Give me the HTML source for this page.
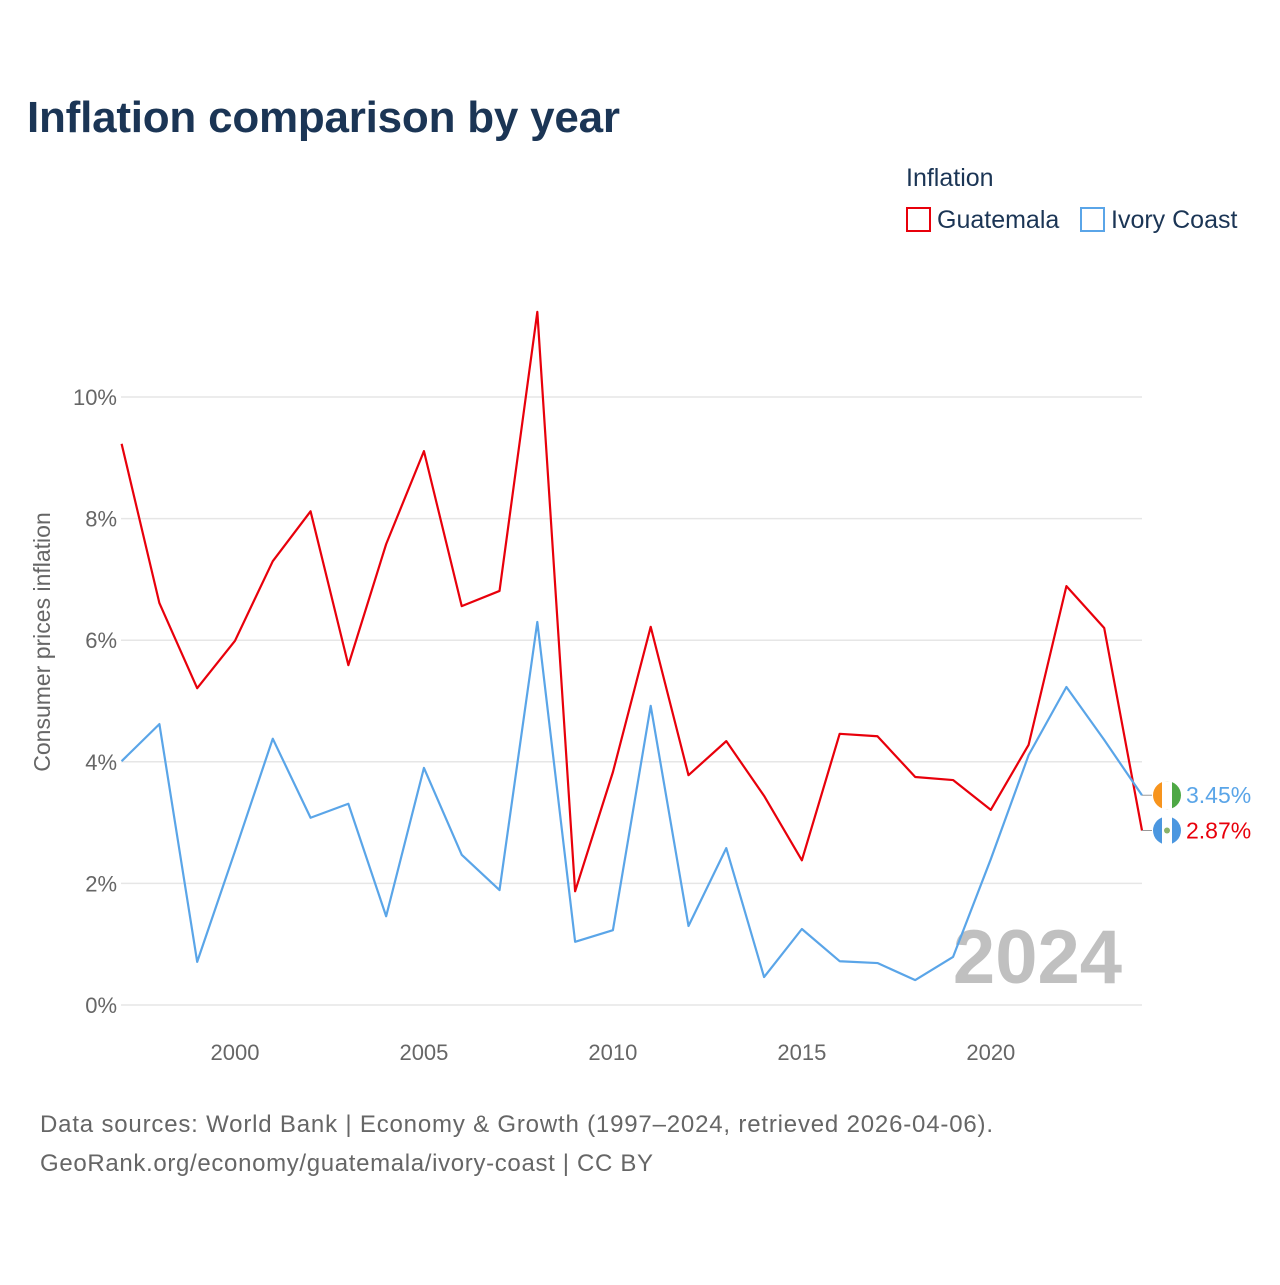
<!DOCTYPE html>
<html><head><meta charset="utf-8"><style>
body{margin:0;background:#fff;font-family:"Liberation Sans",sans-serif;}
svg text{font-family:"Liberation Sans",sans-serif;}
</style></head><body>
<svg id="chart" width="1280" height="1280" xmlns="http://www.w3.org/2000/svg">
<text x="27" y="132" font-size="44" font-weight="bold" fill="#1b3555" textLength="593">Inflation comparison by year</text>
<text x="906" y="186" font-size="25" fill="#1b3555">Inflation</text>
<g><rect x="907" y="208" width="23" height="23" fill="none" stroke="#e8000b" stroke-width="2"/><text x="937" y="228" font-size="25" fill="#1b3555">Guatemala</text></g>
<g><rect x="1081" y="208" width="23" height="23" fill="none" stroke="#5aa5e8" stroke-width="2"/><text x="1111" y="228" font-size="25" fill="#1b3555">Ivory Coast</text></g>
<g id="grid"></g>
<g id="yticks"></g>
<g id="xticks"></g>
<text transform="translate(50,642) rotate(-90)" text-anchor="middle" font-size="23" fill="#666">Consumer prices inflation</text>
<text x="1122" y="983" text-anchor="end" font-size="76" font-weight="bold" fill="#c0c0c0">2024</text>
<g id="series"></g>
<text x="40" y="1132" font-size="24" fill="#666" textLength="953">Data sources: World Bank | Economy &amp; Growth (1997–2024, retrieved 2026-04-06).</text>
<text x="40" y="1171" font-size="24" fill="#666" textLength="613">GeoRank.org/economy/guatemala/ivory-coast | CC BY</text>
</svg>
<script>
const years=[1997,1998,1999,2000,2001,2002,2003,2004,2005,2006,2007,2008,2009,2010,2011,2012,2013,2014,2015,2016,2017,2018,2019,2020,2021,2022,2023,2024];
const guatemala=[9.23,6.61,5.21,5.99,7.30,8.12,5.59,7.58,9.11,6.56,6.81,11.4,1.87,3.83,6.22,3.78,4.34,3.44,2.38,4.46,4.42,3.75,3.70,3.21,4.28,6.89,6.20,2.87];
const ivoryCoast=[4.01,4.62,0.71,2.53,4.38,3.08,3.31,1.46,3.90,2.47,1.89,6.30,1.04,1.23,4.92,1.30,2.58,0.46,1.25,0.72,0.69,0.41,0.79,2.40,4.11,5.23,4.36,3.45];
const yTicks=[0,2,4,6,8,10];
const xTicks=[2000,2005,2010,2015,2020];
const NS="http://www.w3.org/2000/svg";
const x=v=>121.6+(v-1997)*(1142-121.6)/27;
const y=v=>1005-v*60.8;
function mk(t,a,p){const e=document.createElementNS(NS,t);for(const k in a)e.setAttribute(k,a[k]);p.appendChild(e);return e;}
const grid=document.getElementById('grid'),yt=document.getElementById('yticks'),xt=document.getElementById('xticks'),ser=document.getElementById('series');
yTicks.forEach(v=>{
 const l=mk('line',{x1:121,x2:1142,y1:y(v),y2:y(v),stroke:'#e6e6e6','stroke-width':1.5},grid);
 
 
 const t=mk('text',{x:117,y:y(v)+8,'text-anchor':'end','font-size':22,fill:'#666'},yt);t.textContent=v+'%';
 
 
});
xTicks.forEach(v=>{
 const t=mk('text',{x:x(v),y:1060,'text-anchor':'middle','font-size':22,fill:'#666'},xt);t.textContent=v;
 
 
});
function line(vals,col,name,lab,dy,flag){
 const p=mk('polyline',{points:vals.map((v,i)=>x(years[i])+','+y(v)).join(' '),fill:'none',stroke:col,'stroke-width':2.2,'stroke-linejoin':'round'},ser);
 
 
 const last=vals[vals.length-1],ly=y(last)+dy;
 mk('line',{x1:1142,y1:y(last),x2:1152,y2:ly,stroke:'#999','stroke-width':1},ser);
 const g=mk('g',{},ser);
 
 
 mk('circle',{cx:1167,cy:ly,r:14,fill:'#fff'},g);
 if(flag==='ci'){mk('path',{d:`M1167 ${ly-14}a14 14 0 0 0 0 28z`,fill:'#f7941d'},g);mk('path',{d:`M1167 ${ly-14}a14 14 0 0 1 0 28z`,fill:'#4ea845'},g);mk('rect',{x:1162,y:ly-14,width:10,height:28,fill:'#fff'},g);}
 else{mk('path',{d:`M1167 ${ly-14}a14 14 0 0 0 0 28z`,fill:'#4b97e0'},g);mk('path',{d:`M1167 ${ly-14}a14 14 0 0 1 0 28z`,fill:'#4b97e0'},g);mk('rect',{x:1162,y:ly-14,width:10,height:28,fill:'#fff'},g);mk('circle',{cx:1167,cy:ly,r:3,fill:'#8ab26a'},g);}
 const t=mk('text',{x:1186,y:ly+8,'font-size':23,fill:col},ser);t.textContent=lab;
 
 
}
line(guatemala,'#e8000b','guatemala',guatemala[guatemala.length-1].toFixed(2)+'%',0,'gt');
line(ivoryCoast,'#5aa5e8','ivory-coast',ivoryCoast[ivoryCoast.length-1].toFixed(2)+'%',0,'ci');
</script>
</body></html>
